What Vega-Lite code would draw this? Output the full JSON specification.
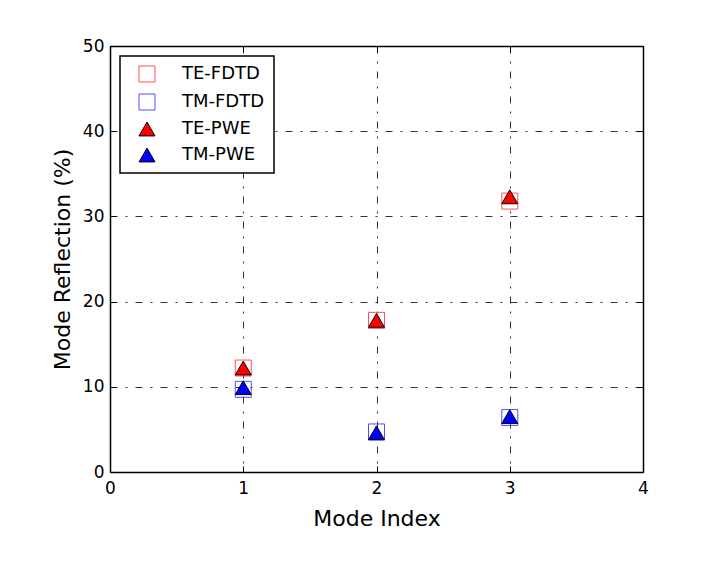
{
  "$schema": "https://vega.github.io/schema/vega-lite/v6.json",
  "width": 533,
  "height": 426,
  "padding": {"left": 51, "top": 37, "right": 60, "bottom": 10},
  "background": "white",
  "data": {
    "values": [
      {"mode": 1, "series": "TE-FDTD", "r": 12.2},
      {"mode": 1, "series": "TM-FDTD", "r": 9.7},
      {"mode": 2, "series": "TE-FDTD", "r": 17.8},
      {"mode": 2, "series": "TM-FDTD", "r": 4.7},
      {"mode": 3, "series": "TE-FDTD", "r": 31.8},
      {"mode": 3, "series": "TM-FDTD", "r": 6.4},
      {"mode": 1, "series": "TE-PWE", "r": 12.2},
      {"mode": 1, "series": "TM-PWE", "r": 9.9},
      {"mode": 2, "series": "TE-PWE", "r": 17.8},
      {"mode": 2, "series": "TM-PWE", "r": 4.6},
      {"mode": 3, "series": "TE-PWE", "r": 32.3},
      {"mode": 3, "series": "TM-PWE", "r": 6.5}
    ]
  },
  "layer": [
    {
      "mark": {"type": "point", "strokeWidth": 1, "opacity": 1},
      "encoding": {
        "x": {
          "field": "mode", "type": "quantitative",
          "scale": {"domain": [0, 4], "nice": false, "zero": false},
          "axis": {"orient": "bottom", "title": "Mode Index", "values": [0, 1, 2, 3, 4], "grid": true, "labelPadding": 14, "titlePadding": 12}
        },
        "y": {
          "field": "r", "type": "quantitative",
          "scale": {"domain": [0, 50], "nice": false},
          "axis": {"orient": "left", "title": "Mode Reflection (%)", "values": [0, 10, 20, 30, 40, 50], "grid": true, "labelPadding": 12, "titlePadding": 8}
        },
        "shape": {
          "field": "series", "type": "nominal",
          "scale": {"domain": ["TE-FDTD", "TM-FDTD", "TE-PWE", "TM-PWE"], "range": ["square", "square", "triangle-up", "triangle-up"]},
          "legend": {"title": null}
        },
        "fill": {
          "field": "series", "type": "nominal",
          "scale": {"domain": ["TE-FDTD", "TM-FDTD", "TE-PWE", "TM-PWE"], "range": ["transparent", "transparent", "#ff0000", "#0000ff"]},
          "legend": {"title": null}
        },
        "stroke": {
          "field": "series", "type": "nominal",
          "scale": {"domain": ["TE-FDTD", "TM-FDTD", "TE-PWE", "TM-PWE"], "range": ["#ff5050", "#5050ff", "#000000", "#000000"]},
          "legend": {"title": null}
        },
        "size": {
          "field": "series", "type": "nominal",
          "scale": {"domain": ["TE-FDTD", "TM-FDTD", "TE-PWE", "TM-PWE"], "range": [256, 256, 290, 290]},
          "legend": {"title": null}
        }
      }
    },
    {
      "mark": {"type": "point", "opacity": 0},
      "encoding": {
        "x": {
          "field": "mode", "type": "quantitative",
          "axis": {"orient": "top", "title": null, "values": [0, 1, 2, 3, 4], "labels": false, "grid": false}
        },
        "y": {
          "field": "r", "type": "quantitative",
          "axis": {"orient": "right", "title": null, "values": [0, 10, 20, 30, 40, 50], "labels": false, "grid": false}
        }
      }
    }
  ],
  "resolve": {"axis": {"x": "independent", "y": "independent"}},
  "config": {
    "font": "DejaVu Sans",
    "view": {"stroke": null},
    "axis": {
      "domainColor": "#000000",
      "domainWidth": 1.5,
      "tickColor": "#000000",
      "tickWidth": 1,
      "tickSize": -6,
      "labelFont": "DejaVu Sans",
      "labelFontSize": 17,
      "labelColor": "#000000",
      "titleFont": "DejaVu Sans",
      "titleFontSize": 22,
      "titleFontWeight": "normal",
      "titleColor": "#000000",
      "gridColor": "#000000",
      "gridOpacity": 0.8,
      "gridWidth": 1,
      "gridDash": [7, 8, 2, 8],
      "labelFlush": false
    },
    "legend": {
      "orient": "none",
      "legendX": 10,
      "legendY": 10,
      "padding": 9,
      "symbolOffset": 9,
      "labelOffset": 26,
      "rowPadding": 8,
      "strokeColor": "#000000",
      "strokeWidth": 1.5,
      "fillColor": "#ffffff",
      "labelFont": "DejaVu Sans",
      "labelFontSize": 18,
      "labelColor": "#000000",
      "symbolStrokeWidth": 1,
      "cornerRadius": 0
    }
  }
}
